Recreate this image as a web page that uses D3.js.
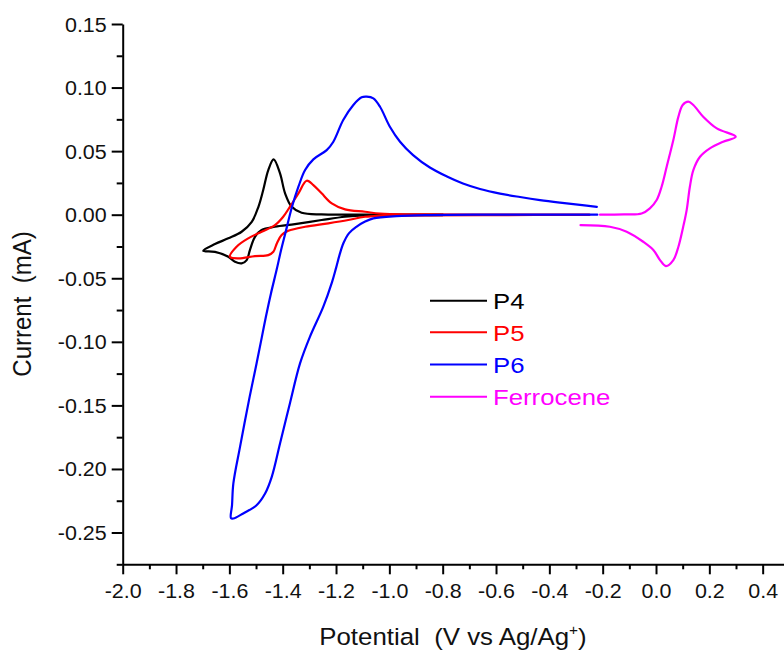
<!DOCTYPE html>
<html>
<head>
<meta charset="utf-8">
<script src="https://cdn.jsdelivr.net/npm/d3@7"></script>
<style>
  html, body { margin: 0; padding: 0; background: #fff; }
  svg { display: block; }
  text { font-family: "Liberation Sans", Arial, sans-serif; white-space: pre; }
</style>
</head>
<body>
<svg id="chart" width="784" height="650"></svg>
<script>
// ---- Data (potential V vs Ag/Ag+, current mA) ----
const seriesNames = ["P4", "P5", "P6", "Ferrocene"];
const seriesColors = ["#000000", "#ff0000", "#0000ff", "#ff00ff"];

const p4 = [
  [-0.80, -0.0003], [-0.95, -0.0004], [-1.091, -0.0005], [-1.166, -0.0016], [-1.254, -0.0042],
  [-1.354, -0.0074], [-1.429, -0.0095], [-1.479, -0.0121], [-1.504, -0.0174],
  [-1.523, -0.0278], [-1.535, -0.0357], [-1.554, -0.0383], [-1.579, -0.0370],
  [-1.604, -0.0331], [-1.654, -0.0292], [-1.698, -0.0284],
  [-1.654, -0.0231], [-1.604, -0.0186], [-1.554, -0.0134], [-1.516, -0.0056],
  [-1.491, 0.0062], [-1.473, 0.0194], [-1.454, 0.0351], [-1.434, 0.0435],
  [-1.410, 0.0325], [-1.391, 0.0168], [-1.366, 0.0062], [-1.329, 0.0015],
  [-1.254, 0.0002], [-1.166, 0.0000], [-1.0, 0.0], [-0.80, 0.0]
];

const p5 = [
  [-0.25, -0.0002], [-0.60, -0.0003], [-0.90, -0.0006], [-1.091, -0.0016], [-1.154, -0.0042],
  [-1.229, -0.0068], [-1.316, -0.0095], [-1.379, -0.0127], [-1.404, -0.0160],
  [-1.422, -0.0226], [-1.435, -0.0292], [-1.454, -0.0318], [-1.504, -0.0326],
  [-1.566, -0.0344], [-1.598, -0.0331],
  [-1.573, -0.0252], [-1.529, -0.0186], [-1.479, -0.0134], [-1.429, -0.0082],
  [-1.398, -0.0016], [-1.373, 0.0062], [-1.341, 0.0168], [-1.310, 0.0267],
  [-1.285, 0.0233], [-1.254, 0.0168], [-1.216, 0.0089], [-1.166, 0.0042],
  [-1.091, 0.0023], [-1.035, 0.0008], [-0.90, 0.0002], [-0.60, 0.0], [-0.25, 0.0]
];

const p6 = [
  [-0.22, 0.0], [-0.45, 0.0], [-0.660, 0.0], [-0.848, -0.0003], [-0.973, -0.0011],
  [-1.060, -0.0029], [-1.091, -0.0054], [-1.1225, -0.0094], [-1.151, -0.0145],
  [-1.172, -0.0223], [-1.187, -0.0318], [-1.200, -0.0420], [-1.215, -0.0530],
  [-1.248, -0.0725], [-1.298, -0.0961], [-1.335, -0.1170],
  [-1.373, -0.1485], [-1.410, -0.1800], [-1.441, -0.2062], [-1.466, -0.2193],
  [-1.498, -0.2285], [-1.548, -0.2350], [-1.585, -0.2390], [-1.594, -0.2387],
  [-1.590, -0.2285], [-1.585, -0.2114], [-1.560, -0.1826], [-1.524, -0.1433],
  [-1.498, -0.1170], [-1.478, -0.0961], [-1.463, -0.0803], [-1.444, -0.0619],
  [-1.423, -0.0436], [-1.406, -0.0278], [-1.390, -0.0145], [-1.365, 0.0062],
  [-1.341, 0.0220], [-1.316, 0.0351], [-1.285, 0.0435], [-1.235, 0.0508],
  [-1.210, 0.0574], [-1.173, 0.0745], [-1.135, 0.0863], [-1.104, 0.0923],
  [-1.085, 0.0928], [-1.060, 0.0915], [-1.035, 0.0849], [-0.998, 0.0692],
  [-0.960, 0.0574], [-0.911, 0.0469], [-0.848, 0.0371], [-0.784, 0.0300],
  [-0.724, 0.0245], [-0.660, 0.0202], [-0.585, 0.0166], [-0.510, 0.0139],
  [-0.435, 0.0115], [-0.360, 0.0095], [-0.285, 0.0077], [-0.222, 0.0062]
];

const ferrocene = [
  [-0.210, 0.0], [-0.120, 0.0002], [-0.054, 0.0009], [-0.023, 0.0050], [0.0025, 0.0115],
  [0.021, 0.0220], [0.040, 0.0377], [0.065, 0.0587], [0.084, 0.0771],
  [0.100, 0.0863], [0.121, 0.0889], [0.140, 0.0863], [0.177, 0.0771],
  [0.228, 0.0679], [0.299, 0.0613],
  [0.252, 0.0574], [0.202, 0.0522], [0.165, 0.0456], [0.140, 0.0351],
  [0.127, 0.0220], [0.115, 0.0036], [0.102, -0.0095], [0.084, -0.0252],
  [0.065, -0.0357], [0.037, -0.0404], [0.015, -0.0357], [-0.010, -0.0278],
  [-0.048, -0.0213], [-0.110, -0.0134], [-0.173, -0.0095], [-0.283, -0.0082]
];

const xTickValues = [-2.0, -1.8, -1.6, -1.4, -1.2, -1.0, -0.8, -0.6, -0.4, -0.2, 0.0, 0.2, 0.4];
const yTickValues = [-0.25, -0.20, -0.15, -0.10, -0.05, 0.00, 0.05, 0.10, 0.15];
const xMinorValues = [-1.9, -1.7, -1.5, -1.3, -1.1, -0.9, -0.7, -0.5, -0.3, -0.1, 0.1, 0.3];
const yMinorValues = [-0.275, -0.225, -0.175, -0.125, -0.075, -0.025, 0.025, 0.075, 0.125];

const xTitle = "Potential  (V vs Ag/Ag";
const yTitle = "Current  (mA)";

// ---- Drawing ----
const svg = d3.select("#chart");
const X0 = 122.7, Y0 = 564.3, YTOP = 24;
const x = d3.scaleLinear().domain([-2.0, 0.48]).range([X0, 784]);
const y = d3.scaleLinear().domain([-0.275, 0.15]).range([Y0, YTOP]);
const SX = 1.1; // horizontal stretch of the original text

const series = [p4, p5, p6, ferrocene];
const line = d3.line().x(d => x(d[0])).y(d => y(d[1])).curve(d3.curveCatmullRom.alpha(0.5));

series.forEach((s, i) => {
  svg.append("path").datum(s)
    .attr("d", line)
    .attr("fill", "none")
    .attr("stroke", seriesColors[i])
    .attr("stroke-width", 2.2)
    .attr("stroke-linejoin", "round")
    .attr("stroke-linecap", "round");
});

// minor ticks
svg.append("g").attr("transform", `translate(0,${Y0})`)
  .call(d3.axisBottom(x).tickValues(xMinorValues).tickSize(5).tickFormat(""))
  .call(g => g.select(".domain").remove())
  .selectAll("line").attr("stroke-width", 2);
svg.append("g").attr("transform", `translate(${X0},0)`)
  .call(d3.axisLeft(y).tickValues(yMinorValues).tickSize(6).tickFormat(""))
  .call(g => g.select(".domain").remove())
  .selectAll("line").attr("stroke-width", 2);

// major axes
const xAxis = svg.append("g").attr("transform", `translate(0,${Y0})`)
  .call(d3.axisBottom(x).tickValues(xTickValues).tickSize(10).tickSizeOuter(0).tickFormat(d3.format(".1f")));
xAxis.select(".domain").attr("stroke-width", 2);
xAxis.selectAll(".tick line").attr("stroke-width", 2);
xAxis.selectAll("text")
  .attr("font-size", 19.5).attr("fill", "#111")
  .attr("font-family", '"Liberation Sans", Arial, sans-serif')
  .attr("y", 33.5).attr("dy", null)
  .attr("transform", `scale(${SX},1)`)
  .text(d => d3.format(".1f")(d).replace("−", "-"));

const yAxis = svg.append("g").attr("transform", `translate(${X0},0)`)
  .call(d3.axisLeft(y).tickValues(yTickValues).tickSize(11).tickSizeOuter(0).tickFormat(d3.format(".2f")));
yAxis.select(".domain").attr("stroke-width", 2);
yAxis.selectAll(".tick line").attr("stroke-width", 2);
yAxis.selectAll("text")
  .attr("font-size", 19.5).attr("fill", "#111")
  .attr("font-family", '"Liberation Sans", Arial, sans-serif')
  .attr("x", -16 / SX).attr("dy", "0.36em")
  .attr("transform", `scale(${SX},1)`)
  .text(d => d3.format(".2f")(d).replace("−", "-"));

// axis titles
const xt = svg.append("g").attr("transform", `translate(453,645) scale(${SX},1)`)
  .append("text").attr("text-anchor", "middle")
  .attr("font-size", 23.5).attr("fill", "#111");
xt.append("tspan").text(xTitle);
xt.append("tspan").attr("font-size", 14).attr("dy", -10).text("+");
xt.append("tspan").attr("dy", 10).text(")");

svg.append("g").attr("transform", `translate(31,304) rotate(-90)`)
  .append("text").attr("text-anchor", "middle")
  .attr("font-size", 24).attr("fill", "#111")
  .attr("transform", "scale(1,1.08)")
  .text(yTitle);

// legend
const legendY = [300.7, 332.3, 364.6, 396.7];
seriesNames.forEach((name, i) => {
  svg.append("line")
    .attr("x1", 430).attr("x2", 487)
    .attr("y1", legendY[i]).attr("y2", legendY[i])
    .attr("stroke", seriesColors[i]).attr("stroke-width", 2);
  svg.append("g").attr("transform", `translate(493,${legendY[i]}) scale(1.12,1)`)
    .append("text").attr("dy", "0.36em")
    .attr("font-size", 23).attr("fill", seriesColors[i])
    .text(name);
});
</script>
</body>
</html>
